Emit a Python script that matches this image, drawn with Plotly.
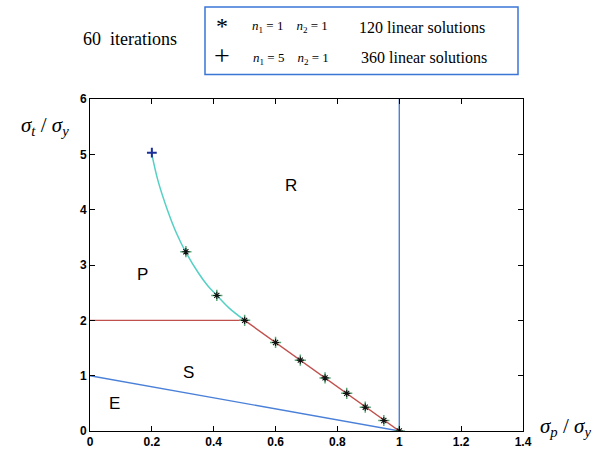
import plotly.graph_objects as go

# Curve data
cyan_x = [0.20, 0.22, 0.25, 0.28, 0.31, 0.35, 0.38, 0.41, 0.45, 0.50]
cyan_y = [5.00, 4.52, 4.00, 3.57, 3.23, 2.86, 2.63, 2.45, 2.22, 2.00]
red_x = [0.50, 0.60, 0.68, 0.76, 0.83, 0.89, 0.95, 1.00]
red_y = [2.00, 1.60, 1.28, 0.96, 0.68, 0.44, 0.20, 0.00]
plateau_x = [0.0, 0.50]
plateau_y = [2.0, 2.0]
elastic_x = [0.0, 1.0]
elastic_y = [1.0, 0.0]
vert_x = [1.0, 1.0]
vert_y = [0.0, 6.0]
star_x = [0.31, 0.41, 0.50, 0.60, 0.68, 0.76, 0.83, 0.89, 0.95, 1.00]
star_y = [3.24, 2.45, 2.00, 1.60, 1.28, 0.96, 0.68, 0.43, 0.19, 0.00]
top_x = [0.20]
top_y = [5.03]
region_labels = ["R", "P", "S", "E"]
region_x = [0.65, 0.17, 0.32, 0.08]
region_y = [4.44, 2.83, 1.06, 0.50]

CYAN = "#55d0c4"
RED = "#c0504d"
BLUE = "#4a80d8"

W, H = 600, 461
L, R, T, B = 90, 77, 99, 23
PW, PH = W - L - R, H - T - B


def px(x):
    return (x - L) / PW


def py(y):
    return (H - B - y) / PH


fig = go.Figure()
fig.add_trace(go.Scatter(x=elastic_x, y=elastic_y, mode="lines", line=dict(color=BLUE, width=1.4)))
fig.add_trace(go.Scatter(x=vert_x, y=vert_y, mode="lines", line=dict(color=BLUE, width=1.4)))
fig.add_trace(go.Scatter(x=plateau_x, y=plateau_y, mode="lines", line=dict(color=RED, width=1.4)))
fig.add_trace(go.Scatter(x=cyan_x, y=cyan_y, mode="lines", line=dict(color=CYAN, width=1.5, shape="spline")))
fig.add_trace(go.Scatter(x=red_x, y=red_y, mode="lines", line=dict(color=RED, width=1.4)))
fig.add_trace(go.Scatter(x=star_x, y=star_y, mode="markers",
                         marker=dict(symbol="cross-thin-open", size=8, color="#5aa878", line=dict(width=1.5))))
fig.add_trace(go.Scatter(x=star_x, y=star_y, mode="markers",
                         marker=dict(symbol="asterisk-open", size=6, color="#111111", line=dict(width=1.1))))
fig.add_trace(go.Scatter(x=top_x, y=top_y, mode="markers",
                         marker=dict(symbol="cross-thin-open", size=7, color="#1a2f9a", line=dict(width=2))))

for t, x, y in zip(region_labels, region_x, region_y):
    fig.add_annotation(x=x, y=y, text=t, showarrow=False, xref="x", yref="y",
                       font=dict(family="Arial, Liberation Sans", size=17, color="black"))

serif = "Liberation Serif, Times New Roman, serif"
ann = [
    (130, 38, "60  iterations", 18),
    (222, 24, "*", 24),
    (222, 55, "+", 28),
    (290, 25, "<i>n</i><sub>1</sub> = 1    <i>n</i><sub>2</sub> = 1", 13),
    (291, 58, "<i>n</i><sub>1</sub> = 5    <i>n</i><sub>2</sub> = 1", 13),
    (422, 26, "120 linear solutions", 16),
    (424, 57, "360 linear solutions", 16),
    (45, 127, "<i>σ<sub>t</sub></i> / <i>σ<sub>y</sub></i>", 21),
    (565, 434, "<i>σ<sub>p</sub></i> / <i>σ<sub>y</sub></i>", 21),
]
for x, y, t, s in ann:
    fig.add_annotation(xref="paper", yref="paper", x=px(x), y=py(y), text=t, showarrow=False,
                       xanchor="center", yanchor="middle",
                       font=dict(family=serif, size=s, color="black"))

fig.add_shape(type="rect", xref="paper", yref="paper", x0=px(205), x1=px(518), y0=py(74), y1=py(5),
              line=dict(color="#3b75d6", width=1.5))

axis_common = dict(showline=True, linecolor="black", linewidth=1, mirror="ticks", ticks="inside",
                   ticklen=5, tickcolor="black", showgrid=False, zeroline=False,
                   tickfont=dict(family="Arial, Liberation Sans", size=12, color="black", weight="bold"))
fig.update_xaxes(range=[0, 1.4], dtick=0.2, tick0=0, **axis_common)
fig.update_yaxes(range=[0, 6], dtick=1, tick0=0, **axis_common)

fig.update_layout(width=W, height=H, showlegend=False, plot_bgcolor="white", paper_bgcolor="white",
                  margin=dict(l=L, r=R, t=T, b=B))
fig.write_html("out.html")
